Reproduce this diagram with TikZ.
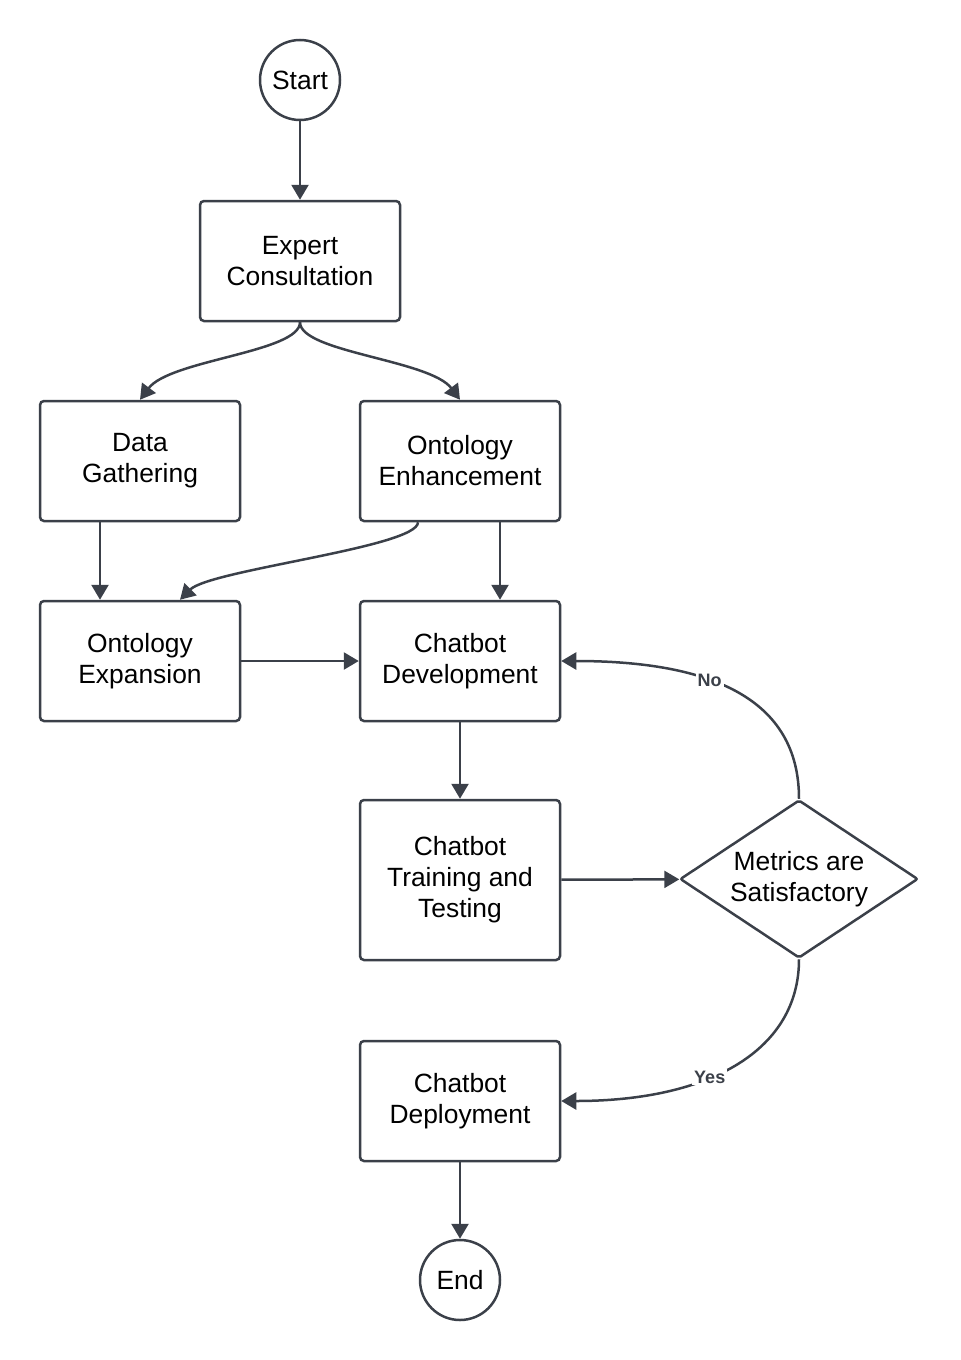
\documentclass[tikz,border=0pt]{standalone}
\usepackage{fontspec}
\setmainfont{Liberation Sans}
\usepackage{tikz}
\usetikzlibrary{arrows.meta,shapes.geometric}
\definecolor{edgegray}{HTML}{3B4049}

\begin{document}
\begin{tikzpicture}[x=0.5pt,y=0.5pt,
    font=\fontsize{13.2}{15.5}\selectfont,
    flowbox/.style={draw=edgegray,line width=1.25pt,rounded corners=2pt,minimum width=100pt,minimum height=60pt,inner sep=0pt,align=center},
    terminal/.style={circle,draw=edgegray,line width=1.25pt,minimum size=40pt,inner sep=0pt},
    decision/.style={diamond,draw=edgegray,line width=1.25pt,rounded corners=1pt,aspect=1.5,minimum width=119pt,minimum height=79pt,inner sep=0pt,align=center},
    flow/.style={draw=edgegray,line width=1.25pt,-{Triangle[length=7.5pt,width=8.5pt]}},
    edgelabel/.style={fill=white,inner sep=1pt,text=edgegray,font=\fontsize{9}{10}\selectfont\bfseries}]
            \useasboundingbox (0,0) rectangle (960,-1360);
            % Nodes
            \node[terminal] (start) at (300,-80) {Start};
            \node[flowbox] (expert) at (300,-261) {Expert\\Consultation};
            \node[flowbox] (gather) at (140,-461) {Data\\Gathering};
            \node[flowbox] (enhance) at (460,-461) {Ontology\\Enhancement};
            \node[flowbox] (expand) at (140,-661) {Ontology\\Expansion};
            \node[flowbox] (develop) at (460,-661) {Chatbot\\Development};
            \node[flowbox,minimum height=80pt] (train) at (460,-880) {Chatbot\\Training and\\Testing};
            \node[decision] (metrics) at (799,-879) {Metrics are\\Satisfactory};
            \node[flowbox] (deploy) at (460,-1101) {Chatbot\\Deployment};
            \node[terminal] (finish) at (460,-1280) {End};
            % Start to consultation
            \draw[flow] (start) -- (expert);
            \draw[flow] (expert.south) .. controls +(0,-30) and +(30,40) .. (gather.north);
            \draw[flow] (expert.south) .. controls +(0,-30) and +(-30,40) .. (enhance.north);
            % Ontology
            \draw[flow] ([xshift=-20pt]gather.south) -- ([xshift=-20pt]expand.north);
            \draw[flow] ([xshift=-21pt]enhance.south) .. controls +(0,-25) and +(30,30) .. ([xshift=20pt]expand.north);
            \draw[flow] ([xshift=20pt]enhance.south) -- ([xshift=20pt]develop.north);
            \draw[flow] (expand) -- (develop);
            % Chatbot loop
            \draw[flow] (develop) -- (train);
            \draw[flow] (train) -- (metrics);
            \draw[flow] (metrics.north) .. controls +(0,100) and +(150,0) .. node[edgelabel,pos=0.6] {No} (develop.east);
            \draw[flow] (metrics.south) .. controls +(0,-90) and +(150,0) .. node[edgelabel,pos=0.6] {Yes} (deploy.east);
            \draw[flow] (deploy) -- (finish);
        \end{tikzpicture}
\end{document}
